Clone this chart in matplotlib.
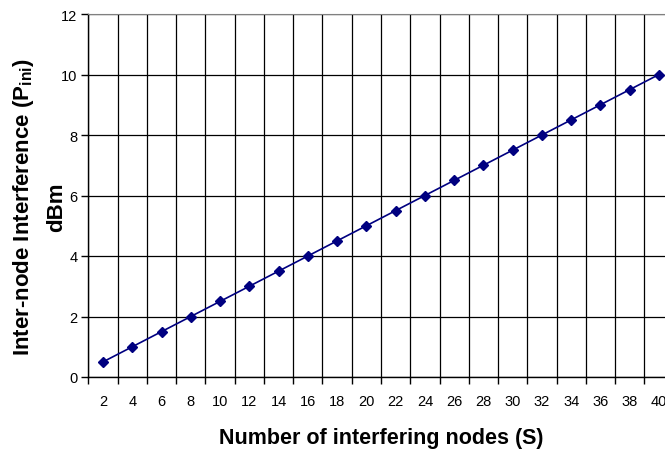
import matplotlib.pyplot as plt
import numpy as np

nodes = [2, 4, 6, 8, 10, 12, 14, 16, 18, 20, 22, 24, 26, 28, 30, 32, 34, 36, 38, 40]
interference = [0.5, 1.0, 1.5, 2.0, 2.5, 3.0, 3.5, 4.0, 4.5, 5.0,
                5.5, 6.0, 6.5, 7.0, 7.5, 8.0, 8.5, 9.0, 9.5, 10.0]

plt.rcParams['font.family'] = ['Liberation Sans', 'DejaVu Sans']
plt.rcParams['mathtext.default'] = 'regular'

fig = plt.figure(figsize=(6.65, 4.6), dpi=100)
ax = fig.add_axes([88.4 / 665, 82 / 460, 585.2 / 665, 363 / 460])

pos = np.arange(len(nodes))
ax.plot(pos, interference, color='#000080', lw=1.2, marker='D', ms=5.5,
        markeredgecolor='#000080', markerfacecolor='#000080', clip_on=False, zorder=3)

ax.set_xlim(-0.5, len(nodes) - 0.5)
ax.set_ylim(0, 12)
ax.set_yticks(range(0, 13, 2))
ax.set_xticks(pos)
ax.set_xticklabels([str(n) for n in nodes])
ax.set_xticks(np.arange(-0.5, len(nodes), 1.0), minor=True)

ax.tick_params(axis='x', which='major', length=0, pad=12, labelsize=10.5)
ax.tick_params(axis='x', which='minor', length=5, width=1, direction='out')
ax.tick_params(axis='y', length=5, width=1, direction='out', labelsize=10.5, pad=3)

ax.grid(True, axis='x', which='minor', color='black', lw=0.9)
ax.grid(True, axis='y', which='major', color='black', lw=0.9)
ax.set_axisbelow(True)

ax.spines['right'].set_visible(False)
ax.spines['top'].set_color('#808080')
ax.spines['left'].set_linewidth(1)
ax.spines['bottom'].set_linewidth(1)

# y label placed by hand, the reference has it a bit below centre
fig.text(39 / 665, 1 - 207 / 460, 'Inter-node Interference (P$_{ini}$)\ndBm',
         fontsize=16, fontweight='bold', rotation=90, ha='center', va='center',
         multialignment='center', linespacing=1.6)
ax.set_xlabel('Number of interfering nodes (S)', fontsize=15.5, fontweight='bold', labelpad=14)

fig.savefig('out.png', dpi=100, facecolor='white')
